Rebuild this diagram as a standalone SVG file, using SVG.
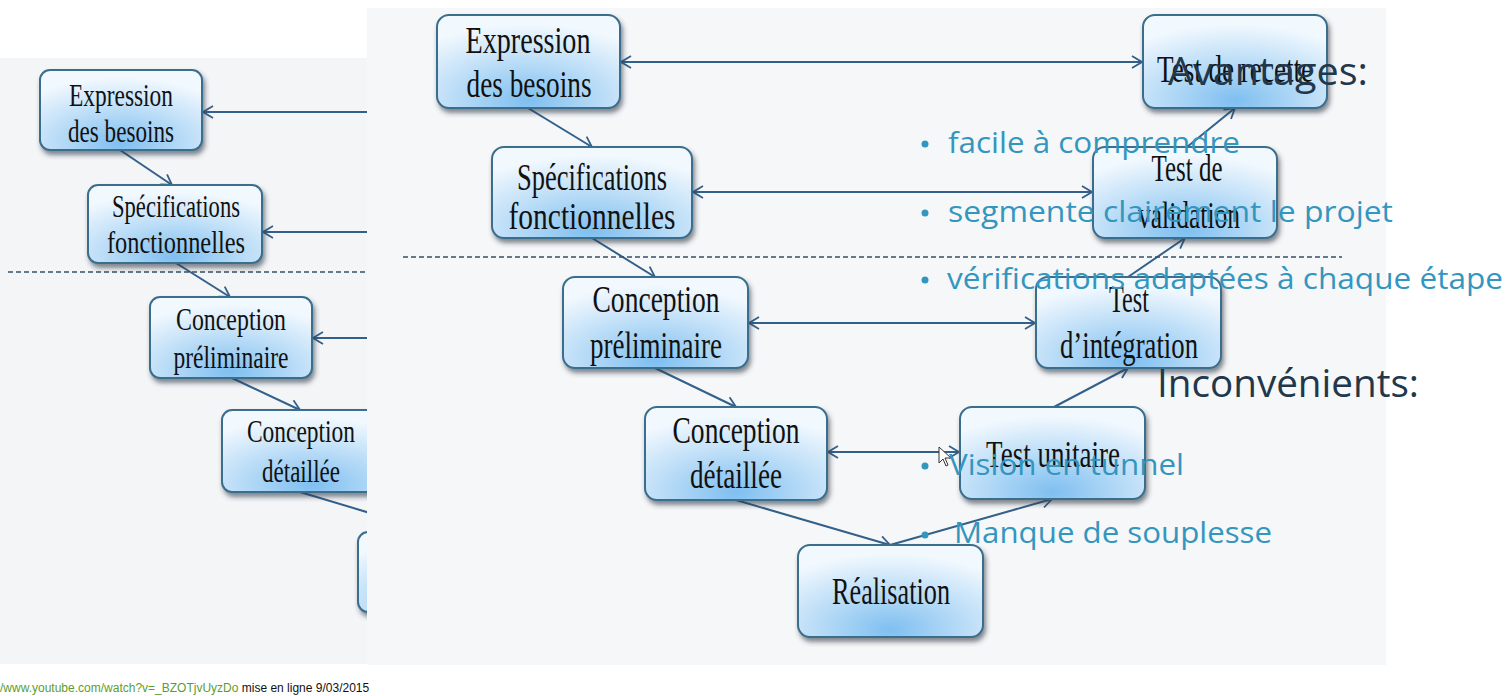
<svg xmlns="http://www.w3.org/2000/svg" width="1512" height="696" viewBox="0 0 1512 696">
<style>
.box{stroke:#3b6d8c;stroke-width:2;fill:url(#g);filter:url(#sh)}
.lbl{font-family:"Liberation Serif",serif;font-size:38px;fill:#111;text-anchor:middle}
.lbls{font-family:"Liberation Serif",serif;font-size:32px;fill:#111;text-anchor:middle}
.ln{stroke:#33608a;stroke-width:2;fill:none}
.dash{stroke:#34506a;stroke-width:1.5;stroke-dasharray:5 3;fill:none}
.bt{font-family:"Open Sans",sans-serif;font-size:30px;fill:#3396bf}
.hd{font-family:"Open Sans",sans-serif;font-size:38px;fill:#22374b}
.dot{fill:#3396bf}
</style>
<defs>
<radialGradient id="g" cx="50%" cy="90%" r="80%" fx="50%" fy="92%">
<stop offset="0" stop-color="#7fbff0"/>
<stop offset="0.5" stop-color="#b9dcf7"/>
<stop offset="1" stop-color="#f1f8fe"/>
</radialGradient>
<filter id="sh" x="-10%" y="-10%" width="125%" height="135%">
<feDropShadow dx="2" dy="4" stdDeviation="2.5" flood-color="#2e3844" flood-opacity="0.6"/>
</filter>
<marker id="arr" viewBox="0 0 12 14" refX="11" refY="7" markerWidth="12" markerHeight="14" markerUnits="userSpaceOnUse" orient="auto-start-reverse">
<path d="M1,1 L11,7 L1,13" stroke="#33608a" stroke-width="1.8" fill="none"/>
</marker>
<clipPath id="leftclip"><rect x="0" y="55" width="367" height="610"/></clipPath>
</defs>
<rect width="1512" height="696" fill="#ffffff"/>
<rect x="0" y="58" width="367" height="606" fill="#f3f5f7"/>
<rect x="367" y="8" width="1019" height="657" fill="#f6f7f8"/>

<g id="left-picture" clip-path="url(#leftclip)">
<g id="left-connectors">
<line class="ln" x1="367" y1="112" x2="203" y2="112" marker-end="url(#arr)"/>
<line class="ln" x1="367" y1="232" x2="263" y2="232" marker-end="url(#arr)"/>
<line class="ln" x1="367" y1="338" x2="313" y2="338" marker-end="url(#arr)"/>
<line class="ln" x1="120" y1="150" x2="172" y2="185" marker-end="url(#arr)"/>
<line class="ln" x1="176" y1="263" x2="230" y2="297" marker-end="url(#arr)"/>
<line class="ln" x1="232" y1="378" x2="300" y2="410" marker-end="url(#arr)"/>
<line class="ln" x1="300" y1="492" x2="370" y2="513"/>
<line class="dash" x1="8" y1="272" x2="367" y2="272"/>
</g>
<g id="left-expression">
<rect class="box" x="40" y="70" width="162" height="80" rx="10"/>
<text class="lbls" x="121" y="106" textLength="104" lengthAdjust="spacingAndGlyphs">Expression</text>
<text class="lbls" x="121" y="142" textLength="106" lengthAdjust="spacingAndGlyphs">des besoins</text>
</g>
<g id="left-specifications">
<rect class="box" x="88" y="185" width="174" height="78" rx="10"/>
<text class="lbls" x="176" y="217" textLength="128" lengthAdjust="spacingAndGlyphs">Spécifications</text>
<text class="lbls" x="176" y="253" textLength="138" lengthAdjust="spacingAndGlyphs">fonctionnelles</text>
</g>
<g id="left-conception-preliminaire">
<rect class="box" x="150" y="297" width="162" height="81" rx="10"/>
<text class="lbls" x="231" y="330" textLength="110" lengthAdjust="spacingAndGlyphs">Conception</text>
<text class="lbls" x="231" y="368" textLength="115" lengthAdjust="spacingAndGlyphs">préliminaire</text>
</g>
<g id="left-conception-detaillee">
<rect class="box" x="222" y="410" width="180" height="82" rx="10"/>
<text class="lbls" x="301" y="442" textLength="108" lengthAdjust="spacingAndGlyphs">Conception</text>
<text class="lbls" x="301" y="482" textLength="78" lengthAdjust="spacingAndGlyphs">détaillée</text>
</g>
<g id="left-realisation">
<rect class="box" x="358" y="532" width="180" height="80" rx="10"/>
</g>
</g>

<g id="connectors">
<line class="ln" x1="621" y1="62" x2="1142" y2="62" marker-start="url(#arr)" marker-end="url(#arr)"/>
<line class="ln" x1="693" y1="192" x2="1092" y2="192" marker-start="url(#arr)" marker-end="url(#arr)"/>
<line class="ln" x1="749" y1="323" x2="1035" y2="323" marker-start="url(#arr)" marker-end="url(#arr)"/>
<line class="ln" x1="828" y1="452" x2="959" y2="452" marker-start="url(#arr)" marker-end="url(#arr)"/>
<line class="ln" x1="528" y1="108" x2="592" y2="147" marker-end="url(#arr)"/>
<line class="ln" x1="592" y1="238" x2="655" y2="277" marker-end="url(#arr)"/>
<line class="ln" x1="655" y1="368" x2="736" y2="407" marker-end="url(#arr)"/>
<line class="ln" x1="736" y1="500" x2="890" y2="545" marker-end="url(#arr)"/>
<line class="ln" x1="890" y1="545" x2="1052" y2="499" marker-end="url(#arr)"/>
<line class="ln" x1="1054" y1="407" x2="1128" y2="368" marker-end="url(#arr)"/>
<line class="ln" x1="1128" y1="277" x2="1185" y2="238" marker-end="url(#arr)"/>
<line class="ln" x1="1187" y1="147" x2="1235" y2="108" marker-end="url(#arr)"/>
<line class="dash" x1="403" y1="257" x2="1342" y2="257"/>
</g>

<g id="expression-des-besoins">
<rect class="box" x="437" y="15" width="183" height="93" rx="12"/>
<text class="lbl" x="528" y="53" textLength="125" lengthAdjust="spacingAndGlyphs">Expression</text>
<text class="lbl" x="529" y="97" textLength="125" lengthAdjust="spacingAndGlyphs">des besoins</text>
</g>
<g id="specifications-fonctionnelles">
<rect class="box" x="492" y="147" width="200" height="91" rx="12"/>
<text class="lbl" x="592" y="190" textLength="150" lengthAdjust="spacingAndGlyphs">Spécifications</text>
<text class="lbl" x="592" y="229" textLength="167" lengthAdjust="spacingAndGlyphs">fonctionnelles</text>
</g>
<g id="conception-preliminaire">
<rect class="box" x="563" y="277" width="185" height="91" rx="12"/>
<text class="lbl" x="656" y="312" textLength="127" lengthAdjust="spacingAndGlyphs">Conception</text>
<text class="lbl" x="656" y="358" textLength="132" lengthAdjust="spacingAndGlyphs">préliminaire</text>
</g>
<g id="conception-detaillee">
<rect class="box" x="645" y="407" width="182" height="93" rx="12"/>
<text class="lbl" x="736" y="443" textLength="127" lengthAdjust="spacingAndGlyphs">Conception</text>
<text class="lbl" x="736" y="488" textLength="92" lengthAdjust="spacingAndGlyphs">détaillée</text>
</g>
<g id="realisation">
<rect class="box" x="798" y="545" width="185" height="92" rx="12"/>
<text class="lbl" x="891" y="604" textLength="118" lengthAdjust="spacingAndGlyphs">Réalisation</text>
</g>
<g id="test-unitaire">
<rect class="box" x="960" y="407" width="185" height="92" rx="12"/>
<text class="lbl" x="1053" y="467" textLength="134" lengthAdjust="spacingAndGlyphs">Test unitaire</text>
</g>
<g id="test-integration">
<rect class="box" x="1036" y="277" width="185" height="91" rx="12"/>
<text class="lbl" x="1129" y="312" textLength="40" lengthAdjust="spacingAndGlyphs">Test</text>
<text class="lbl" x="1129" y="358" textLength="138" lengthAdjust="spacingAndGlyphs">d’intégration</text>
</g>
<g id="test-validation">
<rect class="box" x="1093" y="147" width="184" height="91" rx="12"/>
<text class="lbl" x="1187" y="181" textLength="71" lengthAdjust="spacingAndGlyphs">Test de</text>
<text class="lbl" x="1189" y="228" textLength="102" lengthAdjust="spacingAndGlyphs">validation</text>
</g>
<g id="test-recette">
<rect class="box" x="1143" y="15" width="184" height="93" rx="12"/>
<text class="lbl" x="1235" y="82" textLength="156" lengthAdjust="spacingAndGlyphs">Test de recette</text>
</g>

<g id="cursor">
<path d="M939,447 L939,463 L943,459 L946,466 L948,465 L945,458 L951,458 Z" fill="#ffffff" stroke="#333" stroke-width="1"/>
</g>

<g id="slide-text">
<text class="hd" x="1168" y="85" textLength="200" lengthAdjust="spacingAndGlyphs">Avantages:</text>
<circle class="dot" cx="925" cy="144" r="3.5"/>
<text class="bt" x="948" y="153" textLength="292" lengthAdjust="spacingAndGlyphs">facile à comprendre</text>
<circle class="dot" cx="925" cy="213" r="3.5"/>
<text class="bt" x="948" y="222" textLength="445" lengthAdjust="spacingAndGlyphs">segmente clairement le projet</text>
<circle class="dot" cx="925" cy="280" r="3.5"/>
<text class="bt" x="947" y="289" textLength="556" lengthAdjust="spacingAndGlyphs">vérifications adaptées à chaque étape</text>
<text class="hd" x="1157" y="397" textLength="262" lengthAdjust="spacingAndGlyphs">Inconvénients:</text>
<circle class="dot" cx="925" cy="466" r="3.5"/>
<text class="bt" x="949" y="475" textLength="235" lengthAdjust="spacingAndGlyphs">Vision en tunnel</text>
<circle class="dot" cx="925" cy="535" r="3.5"/>
<text class="bt" x="954" y="543" textLength="318" lengthAdjust="spacingAndGlyphs">Manque de souplesse</text>
</g>

<g id="footer">
<text x="0" y="692" font-family="Liberation Sans, sans-serif" font-size="12px"><tspan fill="#5a9e2f">/www.youtube.com/watch?v=_BZOTjvUyzDo</tspan><tspan fill="#111"> mise en ligne 9/03/2015</tspan></text>
</g>
</svg>
